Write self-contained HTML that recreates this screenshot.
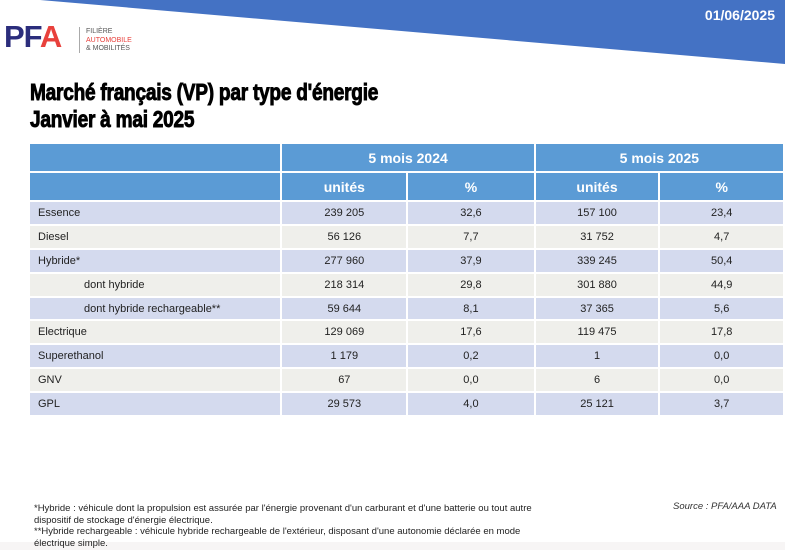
<!DOCTYPE html>
<html><head><meta charset="utf-8"><style>
body{margin:0;width:785px;height:550px;background:#fff;position:relative;overflow:hidden;font-family:"Liberation Sans",sans-serif}
.abs{position:absolute}
table{position:absolute;left:28px;top:142px;border-collapse:collapse;font-size:11px;color:#222}
td{border:2px solid #fff;padding:0;height:21.9px;text-align:center}
.h td{background:#5b9bd5;color:#fff;font-weight:bold;font-size:14px}
.a td{background:#d4daee}.b td{background:#efefeb}
td.l{text-align:left;padding-left:8px}
td.i{text-align:left;padding-left:54px}
.t{font-family:"Liberation Sans",sans-serif;font-weight:bold;font-size:23px;transform:scaleX(0.83);transform-origin:left;white-space:nowrap;color:#000;letter-spacing:-0.3px;-webkit-text-stroke:0.9px #000}
.f{font-size:9.5px;color:#222;line-height:11.5px}
</style></head><body>
<svg class="abs" style="left:0;top:0" width="785" height="70"><polygon points="40,0 785,0 785,64" fill="#4472c4"/></svg>
<div class="abs" style="right:10px;top:7px;color:#fff;font-weight:bold;font-size:14px">01/06/2025</div>
<div class="abs" style="left:4px;top:19px;font-weight:bold;font-size:31px;color:#2b2d7c;letter-spacing:-1px">PF<span style="color:#e8413c">A</span></div>
<div class="abs" style="left:79px;top:27px;width:1px;height:26px;background:#aaa"></div>
<div class="abs" style="left:86px;top:28px;font-size:7px;line-height:8.5px;color:#555">FILIÈRE<br><span style="color:#e8413c">AUTOMOBILE</span><br>&amp; MOBILITÉS</div>
<div class="abs t" style="left:30px;top:79px">Marché français (VP) par type d'énergie</div>
<div class="abs t" style="left:30px;top:106px">Janvier à mai 2025</div>
<table>
<colgroup><col style="width:253px"><col style="width:126px"><col style="width:128px"><col style="width:125px"><col style="width:125px"></colgroup>
<tr class="h"><td style="height:27px"></td><td colspan="2">5 mois 2024</td><td colspan="2">5 mois 2025</td></tr>
<tr class="h"><td style="height:27px"></td><td>unités</td><td>%</td><td>unités</td><td>%</td></tr>
<tr class="a"><td class="l">Essence</td><td>239 205</td><td>32,6</td><td>157 100</td><td>23,4</td></tr>
<tr class="b"><td class="l">Diesel</td><td>56 126</td><td>7,7</td><td>31 752</td><td>4,7</td></tr>
<tr class="a"><td class="l">Hybride*</td><td>277 960</td><td>37,9</td><td>339 245</td><td>50,4</td></tr>
<tr class="b"><td class="i">dont hybride</td><td>218 314</td><td>29,8</td><td>301 880</td><td>44,9</td></tr>
<tr class="a"><td class="i">dont hybride rechargeable**</td><td>59 644</td><td>8,1</td><td>37 365</td><td>5,6</td></tr>
<tr class="b"><td class="l">Electrique</td><td>129 069</td><td>17,6</td><td>119 475</td><td>17,8</td></tr>
<tr class="a"><td class="l">Superethanol</td><td>1 179</td><td>0,2</td><td>1</td><td>0,0</td></tr>
<tr class="b"><td class="l">GNV</td><td>67</td><td>0,0</td><td>6</td><td>0,0</td></tr>
<tr class="a"><td class="l">GPL</td><td>29 573</td><td>4,0</td><td>25 121</td><td>3,7</td></tr>
</table>
<div class="abs" style="left:0;top:542px;width:785px;height:8px;background:#f7f5f5"></div>
<div class="abs f" style="left:34px;top:503px;width:528px">*Hybride : véhicule dont la propulsion est assurée par l'énergie provenant d'un carburant et d'une batterie ou tout autre dispositif de stockage d'énergie électrique.<br>**Hybride rechargeable : véhicule hybride rechargeable de l'extérieur, disposant d'une autonomie déclarée en mode électrique simple.</div>
<div class="abs" style="left:673px;top:501px;font-size:9.5px;font-style:italic;color:#333">Source : PFA/AAA DATA</div>
</body></html>
